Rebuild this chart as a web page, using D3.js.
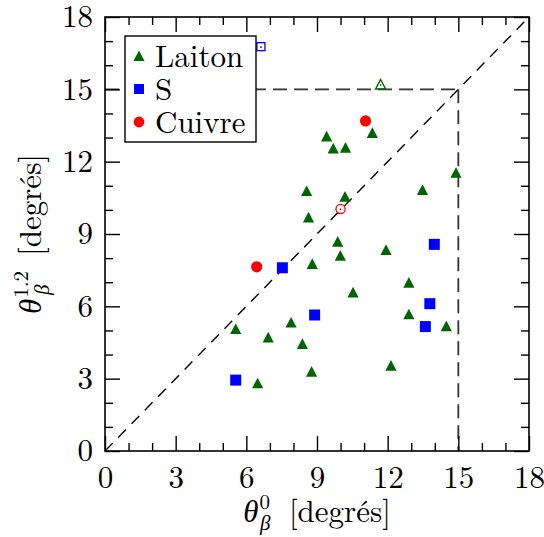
<!DOCTYPE html>
<html>
<head>
<meta charset="utf-8">
<script src="https://cdn.jsdelivr.net/npm/d3@7/dist/d3.min.js"></script>
</head>
<body style="margin:0;padding:0;background:#fff">
<svg id="chart" width="544" height="537" style="display:block"></svg>
<script>
// ---- data ----
const laitonX = [9.41, 11.35, 9.69, 10.21, 14.90, 8.56, 13.48, 10.19, 8.64, 9.88, 11.93, 9.99, 8.80, 12.90, 10.53, 12.90, 5.55, 6.93, 6.48, 7.90, 14.49, 8.38, 8.77, 12.14];
const laitonY = [13.05, 13.19, 12.55, 12.58, 11.54, 10.78, 10.83, 10.55, 9.69, 8.68, 8.34, 8.10, 7.76, 6.98, 6.58, 5.67, 5.06, 4.71, 2.81, 5.33, 5.18, 4.44, 3.29, 3.54];
const sX = [5.55, 7.53, 8.90, 13.60, 13.79, 13.98];
const sY = [2.94, 7.60, 5.64, 5.16, 6.11, 8.57];
const cuivreX = [6.44, 11.06];
const cuivreY = [7.64, 13.69];
// hollow (open) markers
const laitonOpenX = [11.70];
const laitonOpenY = [15.20];
const sOpenX = [6.62];
const sOpenY = [16.77];
const cuivreOpenX = [10.00];
const cuivreOpenY = [10.04];
const majorTicks = [0, 3, 6, 9, 12, 15, 18];
const minorTicks = [1, 2, 4, 5, 7, 8, 10, 11, 13, 14, 16, 17];
const limitValue = 15;
const legendLabels = ["Laiton", "S", "Cuivre"];
const colors = { laiton: "#006400", s: "#0000ff", cuivre: "#ff0000" };

// ---- layout ----
const FONT = "Latin Modern Roman";
const svg = d3.select("#chart");
const L = 105, R = 529, T = 17, B = 451;
const x = d3.scaleLinear().domain([0, 18]).range([L, R]);
const y = d3.scaleLinear().domain([0, 18]).range([B, T]);
const FS = 31;

// ---- reference lines ----
const dl = svg.append("g");
dl.append("line")
  .attr("x1", x(0)).attr("y1", y(0)).attr("x2", x(18)).attr("y2", y(18))
  .attr("stroke", "#000").attr("stroke-width", 1.4).attr("stroke-dasharray", "11,8");
dl.append("line")
  .attr("x1", x(0)).attr("y1", y(limitValue)).attr("x2", x(limitValue)).attr("y2", y(limitValue))
  .attr("stroke", "#333").attr("stroke-width", 1.8).attr("stroke-dasharray", "14,7");
dl.append("line")
  .attr("x1", x(limitValue)).attr("y1", y(limitValue)).attr("x2", x(limitValue)).attr("y2", y(0))
  .attr("stroke", "#333").attr("stroke-width", 1.8).attr("stroke-dasharray", "14,7");

// ---- axes ----
function styleAxis(g) {
  g.attr("font-family", FONT).attr("font-size", FS);
  g.select(".domain").remove();
  g.selectAll("line").attr("stroke", "#000").attr("stroke-width", 1.4);
  g.selectAll("text").attr("font-family", FONT).attr("font-size", FS).attr("fill", "#000");
}
svg.append("g").attr("transform", `translate(0,${B})`)
  .call(d3.axisBottom(x).tickValues(majorTicks).tickSize(-15).tickPadding(15).tickFormat(d3.format("d"))).call(styleAxis);
svg.append("g").attr("transform", `translate(0,${B})`)
  .call(d3.axisBottom(x).tickValues(minorTicks).tickSize(-8).tickFormat("")).call(styleAxis);
svg.append("g").attr("transform", `translate(${L},0)`)
  .call(d3.axisLeft(y).tickValues(majorTicks).tickSize(-15).tickPadding(12).tickFormat(d3.format("d"))).call(styleAxis);
svg.append("g").attr("transform", `translate(${L},0)`)
  .call(d3.axisLeft(y).tickValues(minorTicks).tickSize(-8).tickFormat("")).call(styleAxis);
svg.append("g").attr("transform", `translate(0,${T})`)
  .call(d3.axisTop(x).tickValues(majorTicks).tickSize(-15).tickFormat("")).call(styleAxis);
svg.append("g").attr("transform", `translate(0,${T})`)
  .call(d3.axisTop(x).tickValues(minorTicks).tickSize(-8).tickFormat("")).call(styleAxis);
svg.append("g").attr("transform", `translate(${R},0)`)
  .call(d3.axisRight(y).tickValues(majorTicks).tickSize(-15).tickFormat("")).call(styleAxis);
svg.append("g").attr("transform", `translate(${R},0)`)
  .call(d3.axisRight(y).tickValues(minorTicks).tickSize(-8).tickFormat("")).call(styleAxis);

svg.append("rect").attr("x", L).attr("y", T).attr("width", R - L).attr("height", B - T)
  .attr("fill", "none").attr("stroke", "#000").attr("stroke-width", 1.6);

// ---- markers ----
function triPath(s) { return `M0,${-s}L${s},${s * 0.9}L${-s},${s * 0.9}Z`; }
function zip(xs, ys) { return xs.map((v, i) => [v, ys[i]]); }

const pts = svg.append("g");
pts.selectAll(".lt").data(zip(laitonX, laitonY)).join("path")
  .attr("transform", d => `translate(${x(d[0])},${y(d[1])})`)
  .attr("d", triPath(5.6)).attr("fill", colors.laiton);
pts.selectAll(".sq").data(zip(sX, sY)).join("rect")
  .attr("x", d => x(d[0]) - 5.5).attr("y", d => y(d[1]) - 5.5)
  .attr("width", 11).attr("height", 11).attr("fill", colors.s);
pts.selectAll(".cu").data(zip(cuivreX, cuivreY)).join("circle")
  .attr("cx", d => x(d[0])).attr("cy", d => y(d[1])).attr("r", 5.6).attr("fill", colors.cuivre);

// open markers
pts.selectAll(".lto").data(zip(laitonOpenX, laitonOpenY)).join("path")
  .attr("transform", d => `translate(${x(d[0])},${y(d[1])})`)
  .attr("d", triPath(5)).attr("fill", "none").attr("stroke", colors.laiton).attr("stroke-width", 1.4);
pts.selectAll(".sqo").data(zip(sOpenX, sOpenY)).join("rect")
  .attr("x", d => x(d[0]) - 4).attr("y", d => y(d[1]) - 4)
  .attr("width", 8).attr("height", 8).attr("fill", "none").attr("stroke", colors.s).attr("stroke-width", 1.3);
pts.selectAll(".cuo").data(zip(cuivreOpenX, cuivreOpenY)).join("circle")
  .attr("cx", d => x(d[0])).attr("cy", d => y(d[1])).attr("r", 4.6)
  .attr("fill", "none").attr("stroke", colors.cuivre).attr("stroke-width", 1.3);
const openAll = zip(laitonOpenX, laitonOpenY).concat(zip(sOpenX, sOpenY), zip(cuivreOpenX, cuivreOpenY));
pts.selectAll(".dot").data(openAll).join("circle")
  .attr("cx", d => x(d[0])).attr("cy", d => y(d[1]) + 0.5).attr("r", 0.8).attr("fill", "#000");

// ---- legend ----
const lg = svg.append("g");
lg.append("rect").attr("x", 125).attr("y", 36).attr("width", 131).attr("height", 106)
  .attr("fill", "#fff").attr("stroke", "#000").attr("stroke-width", 1.4);
const rows = [56, 89, 122];
lg.append("path").attr("transform", `translate(139,${rows[0]})`).attr("d", triPath(5.6)).attr("fill", colors.laiton);
lg.append("rect").attr("x", 139 - 5).attr("y", rows[1] - 5).attr("width", 10).attr("height", 10).attr("fill", colors.s);
lg.append("circle").attr("cx", 139).attr("cy", rows[2]).attr("r", 5.4).attr("fill", colors.cuivre);
legendLabels.forEach((t, i) => {
  lg.append("text").attr("x", 155).attr("y", rows[i] + 11)
    .attr("font-family", FONT).attr("font-size", FS).text(t);
});

// ---- axis titles ----
function axisTitle(g, sup) {
  const t = g.append("text").attr("text-anchor", "middle")
    .attr("font-family", FONT).attr("font-size", FS);
  t.append("tspan").attr("font-style", "italic").text("θ");
  t.append("tspan").attr("font-size", 21).attr("dy", -13).attr("dx", 1).text(sup);
  const w = sup.length > 1 ? 24 : 10;
  t.append("tspan").attr("font-size", 21).attr("font-style", "italic").attr("dx", -w).attr("dy", 21).text("β");
  t.append("tspan").attr("dy", -8).attr("dx", sup.length > 1 ? 13 : 3).text("\u00a0[degrés]");
  return t;
}
axisTitle(svg.append("g").attr("transform", `translate(${(L + R) / 2},522)`), "0");
axisTitle(svg.append("g").attr("transform", `translate(41,${(T + B) / 2}) rotate(-90)`), "1.2");
</script>
</body>
</html>
